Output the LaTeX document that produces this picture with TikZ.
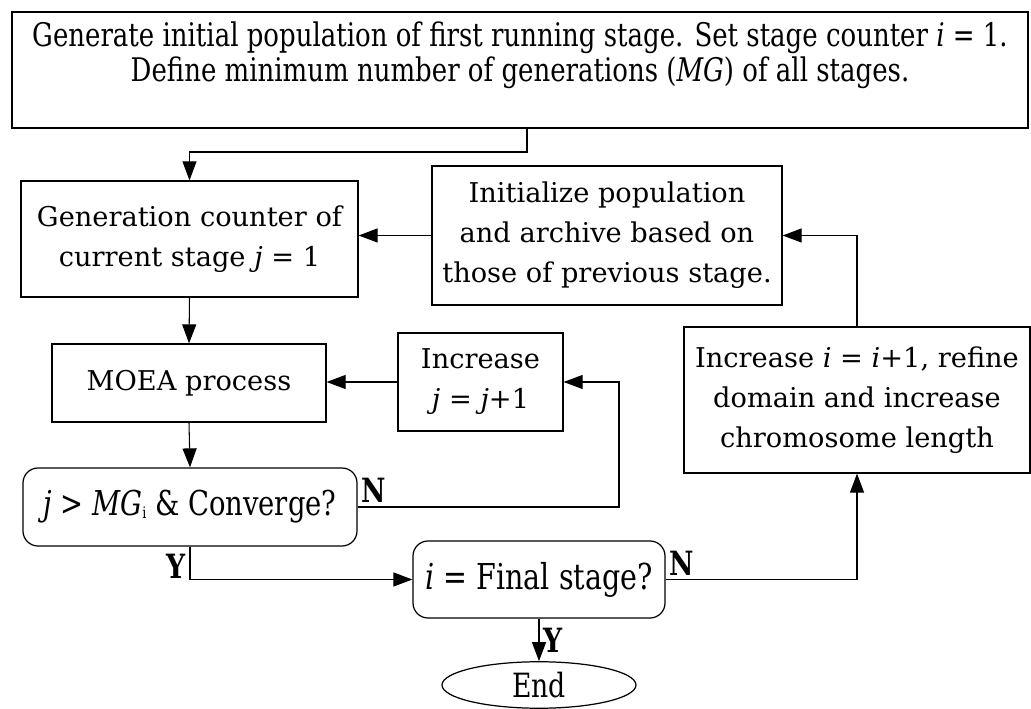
\documentclass[tikz,border=0pt]{standalone}
\usepackage{fontspec}
\setmainfont{DejaVu Serif}
\newfontfamily\condfont[FakeStretch=0.8]{DejaVu Serif}
\usepackage{xcolor}
\usepackage{tikz}
\usetikzlibrary{arrows.meta,positioning,calc,shapes.geometric}
\newcommand{\boxfont}{\fontsize{15.5}{22.8}\selectfont}
\newcommand{\topfont}{\condfont\fontsize{18.5}{19.6}\selectfont}
\newcommand{\testfont}{\condfont\fontsize{20.3}{22}\selectfont}
\tikzset{
  flowbox/.style={draw, line width=0.7pt, align=center, inner sep=3pt, font=\boxfont},
  topbox/.style={flowbox, font=\topfont},
  testbox/.style={flowbox, rounded corners=0.3cm, font=\testfont},
  stopbox/.style={draw, ellipse, line width=0.7pt, inner sep=2pt, font=\condfont\fontsize{19}{20}\selectfont},
  flowmsg/.style={-{Triangle[length=3.8mm,width=2.8mm]}, line width=0.6pt},
  flowlabel/.style={font=\bfseries\condfont\fontsize{19}{19}\selectfont, inner sep=2pt}
}
\begin{document}
\begin{tikzpicture}
\useasboundingbox (0,0) rectangle (20.62,14.18);
\node[topbox, minimum width=20.32cm, minimum height=2.32cm] (start) at (10.40,12.78)
  {Generate initial population of first running stage. Set stage counter \textit{i} = 1.\\Define minimum number of generations (\textit{MG}) of all stages.\\[0.05cm]\mbox{}};
\node[flowbox, minimum width=6.74cm, minimum height=2.32cm] (gencount) at (3.79,9.40) {Generation counter of\\current stage \textit{j} = 1};
\node[flowbox, minimum width=7.00cm, minimum height=2.78cm] (initpop) at (12.14,9.47) {Initialize population\\and archive based on\\those of previous stage.};
\node[flowbox, minimum width=5.48cm, minimum height=1.56cm] (moea) at (3.78,6.52) {MOEA process};
\node[flowbox, minimum width=3.30cm, minimum height=1.96cm] (incj) at (9.61,6.54) {Increase\\\textit{j} = \textit{j}+1};
\node[flowbox, minimum width=6.92cm, minimum height=2.92cm] (inci) at (17.14,6.18) {Increase \textit{i} = \textit{i}+1, refine\\domain and increase\\chromosome length};
\node[testbox, minimum width=6.68cm, minimum height=1.56cm, font=\condfont\fontsize{19.5}{22}\selectfont] (conv) at (3.80,4.04)
  {\textit{j} > \textit{MG}{\fontsize{9}{9}\selectfont\raisebox{-0.35ex}{i}} \& Converge?};
\node[testbox, minimum width=5.04cm, minimum height=1.54cm] (final) at (10.78,2.59) {\textit{i} = Final stage?};
\node[stopbox, minimum width=3.88cm, minimum height=0.92cm] (stop) at (10.78,0.48) {End};
\coordinate (drop) at (10.54,11.14);
\coordinate (jback) at (12.38,4.04);
\draw[flowmsg] (start.south -| drop) -- (drop) -| (gencount.north);
\draw[flowmsg] (initpop.west) -- (initpop.west -| gencount.east);
\draw[flowmsg] (inci.north) |- (initpop.east);
\draw[flowmsg] (gencount.south) -- (moea.north);
\draw[flowmsg] (incj.west) -- (incj.west -| moea.east);
\draw[flowmsg] (moea.south) -- (conv.north);
\draw[flowmsg] (conv.east) -- node[flowlabel, pos=0, above right] {N} (jback) |- (incj.east);
\draw[flowmsg] (conv.south) |- node[flowlabel, pos=0.3, left] {Y} (final.west);
\draw[flowmsg] (final.east) -- node[flowlabel, pos=0, above right] {N} (final.east -| inci.south) -- (inci.south);
\draw[flowmsg] (final.south) -- node[flowlabel, right] {Y} (stop.north);
\end{tikzpicture}
\end{document}
